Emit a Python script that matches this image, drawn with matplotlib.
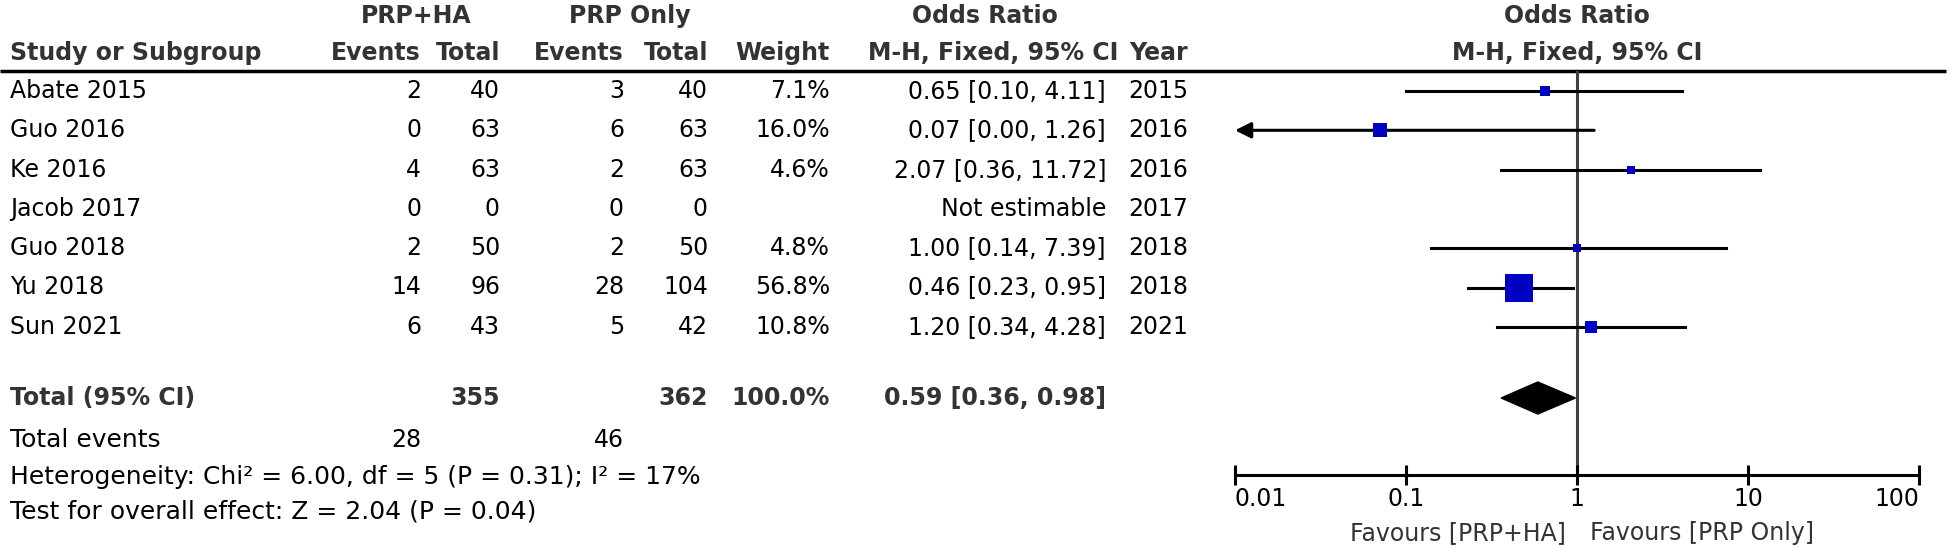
# forest plot: PRP+HA vs PRP only, odds ratio (M-H, fixed)
import numpy as np
import matplotlib
matplotlib.use('Agg')
import matplotlib.pyplot as plt
from matplotlib.patches import Polygon

# data
studies = ['Abate 2015', 'Guo 2016', 'Ke 2016', 'Jacob 2017', 'Guo 2018', 'Yu 2018', 'Sun 2021']
ev_ha = [2, 0, 4, 0, 2, 14, 6]
tot_ha = [40, 63, 63, 0, 50, 96, 43]
ev_prp = [3, 6, 2, 0, 2, 28, 5]
tot_prp = [40, 63, 63, 0, 50, 104, 42]
weights = [7.1, 16.0, 4.6, np.nan, 4.8, 56.8, 10.8]
odds = [0.65, 0.07, 2.07, np.nan, 1.00, 0.46, 1.20]
ci_lo = [0.10, 0.00, 0.36, np.nan, 0.14, 0.23, 0.34]
ci_hi = [4.11, 1.26, 11.72, np.nan, 7.39, 0.95, 4.28]
years = [2015, 2016, 2016, 2017, 2018, 2018, 2021]

total_ha = 355
total_prp = 362
total_ev_ha = 28
total_ev_prp = 46
pooled = [0.59, 0.36, 0.98]
het_text = 'Heterogeneity: Chi\u00b2 = 6.00, df = 5 (P = 0.31); I\u00b2 = 17%'
test_text = 'Test for overall effect: Z = 2.04 (P = 0.04)'
xticks = [0.01, 0.1, 1, 10, 100]
xtick_labels = ['0.01', '0.1', '1', '10', '100']

plt.rcParams['font.family'] = ['DejaVu Sans']
FS = 17
GREY = '#333333'
BLUE = '#0000c4'

W, H = 1952, 548
fig = plt.figure(figsize=(W / 100, H / 100), dpi=100)

# text layer in pixel coords
tab = fig.add_axes([0, 0, 1, 1])
tab.set_xlim(0, W)
tab.set_ylim(H, 0)
tab.axis('off')

# layout (pixels)
x_name = 10
x_e1, x_t1, x_e2, x_t2, x_w, x_or, x_yr = 421, 500, 624, 708, 830, 1106, 1188
y_h1, y_h2, y_line = 16, 53, 71
y0, dy = 91, 39.3
y_tot, y_tev, y_het, y_test = 398, 440, 477, 512
x_lo_px, x_hi_px = 1235, 1919
y_axis = 475

def txt(x, y, s, ha='right', bold=False, color='black', size=FS):
    tab.text(x, y, s, ha=ha, va='center', fontsize=size, color=color,
             fontweight='bold' if bold else 'normal')

# header
txt(416, y_h1, 'PRP+HA', ha='center', bold=True, color=GREY)
txt(630, y_h1, 'PRP Only', ha='center', bold=True, color=GREY)
txt(985, y_h1, 'Odds Ratio', ha='center', bold=True, color=GREY)
txt((x_lo_px + x_hi_px) / 2, y_h1, 'Odds Ratio', ha='center', bold=True, color=GREY)
txt(x_name, y_h2, 'Study or Subgroup', ha='left', bold=True, color=GREY)
for x, s in [(x_e1, 'Events'), (x_t1, 'Total'), (x_e2, 'Events'), (x_t2, 'Total'),
             (x_w, 'Weight'), (x_yr - 70, 'M-H, Fixed, 95% CI'), (x_yr, 'Year')]:
    txt(x, y_h2, s, bold=True, color=GREY)
txt((x_lo_px + x_hi_px) / 2, y_h2, 'M-H, Fixed, 95% CI', ha='center', bold=True, color=GREY)
tab.plot([0, 1946], [y_line, y_line], color='black', lw=2.5, solid_capstyle='butt')

# study rows
for i, name in enumerate(studies):
    y = y0 + i * dy
    txt(x_name, y, name, ha='left')
    txt(x_e1, y, str(ev_ha[i]))
    txt(x_t1, y, str(tot_ha[i]))
    txt(x_e2, y, str(ev_prp[i]))
    txt(x_t2, y, str(tot_prp[i]))
    if np.isnan(odds[i]):
        txt(x_or, y, 'Not estimable')
    else:
        txt(x_w, y, '%.1f%%' % weights[i])
        txt(x_or, y, '%.2f [%.2f, %.2f]' % (odds[i], ci_lo[i], ci_hi[i]))
    txt(x_yr, y, str(years[i]))

# totals
txt(x_name, y_tot, 'Total (95% CI)', ha='left', bold=True, color=GREY)
txt(x_t1, y_tot, str(total_ha), bold=True, color=GREY)
txt(x_t2, y_tot, str(total_prp), bold=True, color=GREY)
txt(x_w, y_tot, '100.0%', bold=True, color=GREY)
txt(x_or, y_tot, '%.2f [%.2f, %.2f]' % tuple(pooled), bold=True, color=GREY)
txt(x_name, y_tev, 'Total events', ha='left', size=18)
txt(x_e1, y_tev, str(total_ev_ha))
txt(x_e2, y_tev, str(total_ev_prp))
txt(x_name, y_het, het_text, ha='left', size=18)
txt(x_name, y_test, test_text, ha='left', size=18)

# forest panel
ax = fig.add_axes([x_lo_px / W, 1 - y_axis / H, (x_hi_px - x_lo_px) / W, (y_axis - y_line) / H])
ax.set_xscale('log')
ax.set_xlim(xticks[0], xticks[-1])
ax.set_ylim(y_axis, y_line)
ax.patch.set_alpha(0)
for sp in ['top', 'left', 'right']:
    ax.spines[sp].set_visible(False)
ax.spines['bottom'].set_linewidth(2.2)
ax.set_yticks([])
ax.set_xticks(xticks)
ax.set_xticklabels(xtick_labels, fontsize=FS)
ax.minorticks_off()
ax.tick_params(axis='x', direction='inout', length=14, width=2.2, pad=2)
lbls = ax.get_xticklabels()
lbls[0].set_ha('left')
lbls[-1].set_ha('right')

ax.axvline(1, color='#404040', lw=2.2, zorder=1)

for i in range(len(studies)):
    if np.isnan(odds[i]):
        continue
    y = y0 + i * dy
    if ci_lo[i] < xticks[0]:
        ax.annotate('', xy=(xticks[0], y), xytext=(ci_hi[i], y),
                    arrowprops=dict(arrowstyle='-|>', lw=2.2, color='black',
                                    mutation_scale=24, shrinkA=0, shrinkB=0),
                    annotation_clip=False)
    else:
        ax.plot([ci_lo[i], ci_hi[i]], [y, y], color='black', lw=2.2, zorder=2)
    side = 3.6 * np.sqrt(weights[i]) * 0.72
    ax.plot(odds[i], y, marker='s', markersize=side, color=BLUE, mew=0, zorder=3)

dia = Polygon([(pooled[1], y_tot), (pooled[0], y_tot - 16), (pooled[2], y_tot), (pooled[0], y_tot + 16)],
              closed=True, color='black', zorder=3)
ax.add_patch(dia)

txt(1566, 533, 'Favours [PRP+HA]', ha='right', color=GREY)
txt(1590, 533, 'Favours [PRP Only]', ha='left', color=GREY)

fig.savefig('out.png', dpi=100)
